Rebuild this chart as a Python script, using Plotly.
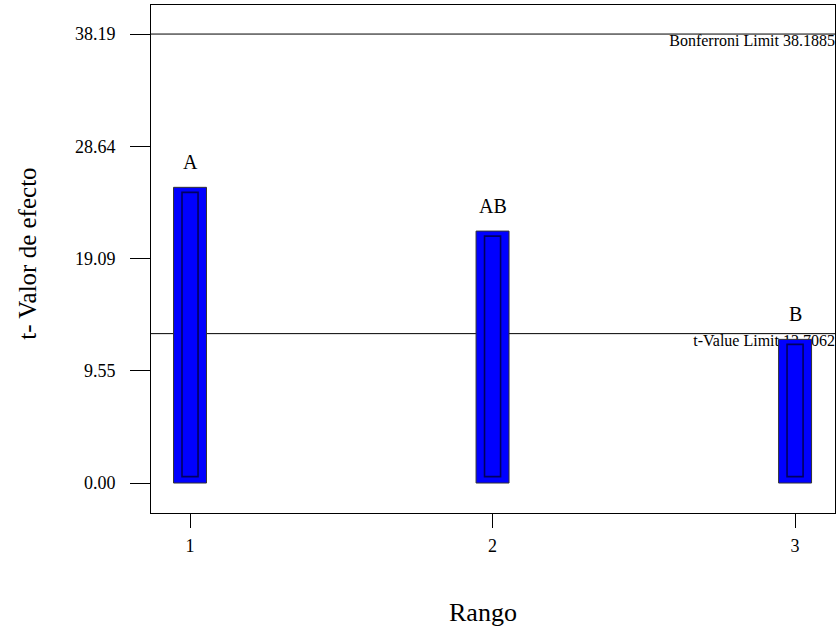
import plotly.graph_objects as go

# ---- data ----
rangos = [1, 2, 3]
t_valores = [25.15, 21.43, 12.22]
letras = ["A", "AB", "B"]
bonferroni_limit = 38.1885
t_value_limit = 12.7062
y_tickvals = [0.0, 9.547, 19.094, 28.641, 38.1885]
y_ticktext = ["0.00", "9.55", "19.09", "28.64", "38.19"]
x_tickvals = [1, 2, 3]
x_ticktext = ["1", "2", "3"]

# ---- style ----
FONT = "Liberation Serif"
X_RANGE = [0.871, 3.132]
Y_RANGE = [-2.55, 40.66]
INNER_BASE = 0.54
INNER_TOP_INSET = 0.43

fig = go.Figure()

# limit labels in the base layer (bars overlay them)
fig.add_trace(go.Scatter(
    x=[X_RANGE[1], X_RANGE[1]], y=[bonferroni_limit, t_value_limit],
    mode="text",
    text=[f"Bonferroni Limit {bonferroni_limit:.4f}", f"t-Value Limit {t_value_limit:.4f}"],
    textposition="bottom left",
    textfont=dict(family=FONT, size=16, color="black"),
    cliponaxis=False, hoverinfo="skip", showlegend=False,
    xaxis="x", yaxis="y",
))

# outer bars
fig.add_trace(go.Bar(
    x=rangos, y=t_valores, width=0.109,
    marker=dict(color="#0000FF", line=dict(color="#333333", width=1)),
    xaxis="x2", yaxis="y2", showlegend=False,
))
# inner outline rectangles
fig.add_trace(go.Bar(
    x=rangos, y=[v - INNER_TOP_INSET - INNER_BASE for v in t_valores],
    base=INNER_BASE, width=0.053,
    marker=dict(color="rgba(0,0,0,0)", line=dict(color="#000060", width=1.6)),
    xaxis="x2", yaxis="y2", showlegend=False,
))

# bar letters
for xv, yv, lab in zip(rangos, t_valores, letras):
    fig.add_annotation(x=xv, y=yv, xref="x2", yref="y2", text=lab, showarrow=False,
                       yshift=25, font=dict(family=FONT, size=20, color="black"))

# horizontal limit lines
for lim in [bonferroni_limit, t_value_limit]:
    fig.add_shape(type="line", xref="x domain", yref="y", x0=0, x1=1, y0=lim, y1=lim,
                  line=dict(color="black", width=1), layer="below")

# axis titles
fig.add_annotation(text="t- Valor de efecto", xref="paper", yref="paper",
                   x=-0.180, y=0.51, textangle=-90, showarrow=False,
                   xanchor="center", yanchor="middle",
                   font=dict(family=FONT, size=25, color="black"))
fig.add_annotation(text="Rango", xref="paper", yref="paper",
                   x=0.486, y=-0.195, showarrow=False,
                   xanchor="center", yanchor="middle",
                   font=dict(family=FONT, size=26, color="black"))

axis_common = dict(showgrid=False, zeroline=False, showline=True, linecolor="black",
                   linewidth=1, mirror=True, ticks="outside", tickcolor="black",
                   tickwidth=1, tickfont=dict(family=FONT, size=18, color="black"))

fig.update_layout(
    width=838, height=634,
    margin=dict(l=151, r=3, t=5, b=121),
    paper_bgcolor="white", plot_bgcolor="white",
    barmode="overlay", showlegend=False,
    xaxis=dict(range=X_RANGE, tickvals=x_tickvals, ticktext=x_ticktext,
               ticklen=14, ticklabelstandoff=2, **axis_common),
    yaxis=dict(range=Y_RANGE, tickvals=y_tickvals, ticktext=y_ticktext,
               ticklen=20, ticklabelstandoff=11, **axis_common),
    xaxis2=dict(range=X_RANGE, overlaying="x", visible=False, showgrid=False),
    yaxis2=dict(range=Y_RANGE, overlaying="y", visible=False, showgrid=False),
)

fig.write_html("out.html", config={"displayModeBar": False},
               post_script="document.body.style.margin='0';")
